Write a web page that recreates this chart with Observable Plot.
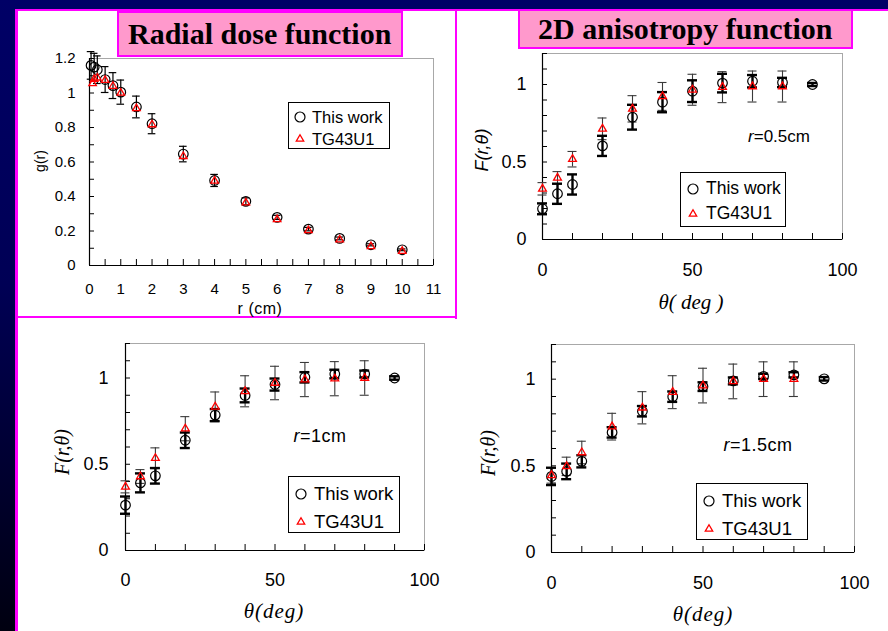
<!DOCTYPE html>
<html><head><meta charset="utf-8">
<script src="https://cdn.jsdelivr.net/npm/d3@7"></script>
<script src="https://cdn.jsdelivr.net/npm/@observablehq/plot@0.6"></script>
<style>
html,body{margin:0;padding:0;}
body{width:888px;height:631px;overflow:hidden;position:relative;background:linear-gradient(to bottom,#000066 0%,#000055 45%,#000010 100%);font-family:"Liberation Sans",Arial,sans-serif;}
#white{position:absolute;left:18px;top:11px;width:870px;height:620px;background:#fff;}
.mag{position:absolute;background:#ff00ff;}
.title{position:absolute;background:#ff99cc;border:2px solid #ff00ff;box-sizing:border-box;font-family:"Liberation Serif","Times New Roman",serif;font-weight:bold;font-size:30px;color:#000;white-space:nowrap;}
.lab{position:absolute;white-space:nowrap;color:#000;}
.legend{position:absolute;border:1px solid #000;background:#fff;box-sizing:border-box;}
.legend svg{position:absolute;left:0;top:0;overflow:visible;}
.legend span{position:absolute;white-space:nowrap;line-height:1;}
svg.plot{position:absolute;}
</style>
</head><body>
<div id="white"></div>
<div class="mag" style="left:15px;top:9px;width:873px;height:2px;"></div>
<div class="mag" style="left:15px;top:9px;width:3px;height:622px;"></div>
<div class="mag" style="left:455px;top:9px;width:2px;height:310px;"></div>
<div class="mag" style="left:15px;top:316px;width:442px;height:2px;"></div>
<script>
// ---------- DATA ----------
// Radial dose function g(r)
const radialThisR   = [0.05, 0.15, 0.25, 0.5, 0.75, 1, 1.5, 2, 3, 4, 5, 6, 7, 8, 9, 10];
const radialThisG   = [1.16, 1.15, 1.135, 1.078, 1.043, 1.005, 0.919, 0.822, 0.646, 0.493, 0.372, 0.279, 0.211, 0.157, 0.12, 0.091];
const radialThisErr = [0.08, 0.08, 0.08, 0.075, 0.075, 0.07, 0.063, 0.058, 0.045, 0.035, 0.02, 0.012, 0.01, 0.008, 0.006, 0.005];
const radialTGR     = [0.1, 0.15, 0.25, 0.5, 0.75, 1, 1.5, 2, 3, 4, 5, 6, 7, 8, 9, 10];
const radialTGG     = [1.055, 1.08, 1.088, 1.074, 1.04, 1.0, 0.91, 0.817, 0.633, 0.49, 0.364, 0.267, 0.203, 0.149, 0.11, 0.083];
const radialXTicks  = [0, 1, 2, 3, 4, 5, 6, 7, 8, 9, 10, 11];
const radialYTicks  = [0, 0.2, 0.4, 0.6, 0.8, 1, 1.2];

// 2D anisotropy function F(r,theta)
const thetaThis = [0, 5, 10, 20, 30, 40, 50, 60, 70, 80, 90];
const thetaTG   = [0, 5, 10, 20, 30, 40, 50, 60, 70, 80];
// r = 0.5 cm
const f05This    = [0.198, 0.295, 0.355, 0.604, 0.789, 0.886, 0.957, 1.009, 1.021, 1.013, 1.0];
const f05ThisErr = [0.035, 0.065, 0.065, 0.065, 0.08, 0.065, 0.07, 0.06, 0.04, 0.03, 0.01];
const f05TG      = [0.327, 0.398, 0.518, 0.714, 0.843, 0.923, 0.966, 0.983, 0.987, 0.987];
const f05TGErr   = [0.04, 0.04, 0.05, 0.07, 0.085, 0.09, 0.1, 0.1, 0.1, 0.1];
// r = 1 cm
const f10This    = [0.263, 0.392, 0.433, 0.639, 0.785, 0.899, 0.962, 1.004, 1.023, 1.023, 1.0];
const f10ThisErr = [0.05, 0.055, 0.045, 0.045, 0.035, 0.04, 0.035, 0.03, 0.025, 0.02, 0.01];
const f10TG      = [0.369, 0.429, 0.535, 0.706, 0.833, 0.923, 0.971, 0.991, 0.996, 1.0];
const f10TGErr   = [0.035, 0.04, 0.06, 0.07, 0.086, 0.09, 0.097, 0.099, 0.099, 0.1];
// r = 1.5 cm
const f15This    = [0.439, 0.468, 0.526, 0.693, 0.815, 0.899, 0.957, 0.99, 1.016, 1.025, 1.002];
const f15ThisErr = [0.05, 0.045, 0.035, 0.03, 0.03, 0.03, 0.025, 0.02, 0.015, 0.015, 0.01];
const f15TG      = [0.445, 0.497, 0.577, 0.726, 0.835, 0.925, 0.963, 0.987, 1.0, 1.0];
const f15TGErr   = [0.045, 0.053, 0.065, 0.077, 0.093, 0.095, 0.1, 0.1, 0.1, 0.1];
const anisoXTicks = [0, 50, 100];
const anisoYTicks = [0, 0.5, 1];

// ---------- HELPERS ----------
const zip = (xs, ys, es) => xs.map((x, i) => ({x, y: ys[i], e: es ? es[i] : 0}));

function errMarks(data, {stroke, strokeWidth, cap}) {
  return [
    Plot.ruleX(data, {x: "x", y1: d => d.y - d.e, y2: d => d.y + d.e, stroke, strokeWidth}),
    Plot.ruleY(data, {y: d => d.y + d.e, x1: "x", x2: "x", insetLeft: -cap, insetRight: -cap, stroke, strokeWidth}),
    Plot.ruleY(data, {y: d => d.y - d.e, x1: "x", x2: "x", insetLeft: -cap, insetRight: -cap, stroke, strokeWidth})
  ];
}

function panel(o) {
  const ML = 70, MT = 12, MR = 14, MB = 50;
  const fw = o.frame[2] - o.frame[0], fh = o.frame[3] - o.frame[1];
  const svg = Plot.plot({
    width: fw + ML + MR, height: fh + MT + MB,
    marginLeft: ML, marginTop: MT, marginRight: MR, marginBottom: MB,
    x: {domain: o.xDomain},
    y: {domain: o.yDomain},
    style: {background: "transparent", fontFamily: "'Liberation Sans', Arial, sans-serif", fontSize: o.fontSize + "px", color: "#000", overflow: "visible"},
    marks: [
      Plot.frame({stroke: "#a8a8a8"}),
      Plot.tickX(o.xMinor, {x: d => d, insetTop: fh - 6, stroke: "#000"}),
      Plot.tickY(o.yMinor, {y: d => d, insetRight: fw - 5, stroke: "#000"}),
      Plot.ruleX([o.xDomain[0]], {stroke: "#000", strokeWidth: 1.2}),
      Plot.ruleY([o.yDomain[0]], {stroke: "#000", strokeWidth: 1.2}),
      Plot.axisX({ticks: o.xTicks, tickSize: 0, tickPadding: o.xPad, label: null, tickFormat: d => String(d), fill: "#000"}),
      Plot.axisY({ticks: o.yTicks, tickSize: 0, tickPadding: o.yPad, label: null, tickFormat: d => String(d), fill: "#000"}),
      ...o.marks
    ]
  });
  svg.classList.add("plot");
  svg.style.left = (o.frame[0] - ML) + "px";
  svg.style.top = (o.frame[1] - MT) + "px";
  document.body.appendChild(svg);
}

function anisoMarks(thisVals, thisErr, tgVals, tgErr) {
  const dThis = zip(thetaThis, thisVals, thisErr);
  const dTG = zip(thetaTG, tgVals, tgErr);
  return [
    ...errMarks(dTG, {stroke: "#3a3a3a", strokeWidth: 1.1, cap: 4.5}),
    ...errMarks(dThis, {stroke: "#000", strokeWidth: 2.4, cap: 5}),
    Plot.dot(dThis, {x: "x", y: "y", r: 4.8, stroke: "#000", strokeWidth: 1.2, fill: "none"}),
    Plot.dot(dTG, {x: "x", y: "y", r: 2.9, symbol: "triangle", stroke: "#ff0000", strokeWidth: 1.3, fill: "none"})
  ];
}

// ---------- PANELS ----------
const rThis = zip(radialThisR, radialThisG, radialThisErr);
const rTG = zip(radialTGR, radialTGG);
panel({
  frame: [89, 58, 433, 265], xDomain: [0, 11], yDomain: [0, 1.2],
  xTicks: radialXTicks, yTicks: radialYTicks,
  xMinor: d3.range(0, 11.001, 0.5), yMinor: d3.range(0, 1.2001, 0.1),
  xPad: 18, yPad: 14, fontSize: 15,
  marks: [
    ...errMarks(rThis, {stroke: "#000", strokeWidth: 1.2, cap: 3.8}),
    Plot.dot(rThis, {x: "x", y: "y", r: 4.8, stroke: "#000", strokeWidth: 1.2, fill: "none"}),
    Plot.dot(rTG, {x: "x", y: "y", r: 2.8, symbol: "triangle", stroke: "#ff0000", strokeWidth: 1.3, fill: "none"})
  ]
});
const anisoCommon = {xDomain: [0, 100], yDomain: [0, 1.2], xTicks: anisoXTicks, yTicks: anisoYTicks,
  xMinor: d3.range(0, 100.001, 10), yMinor: d3.range(0, 1.2001, 0.1), fontSize: 18};
panel({...anisoCommon, frame: [542, 53, 842, 239], xPad: 24, yPad: 16, marks: anisoMarks(f05This, f05ThisErr, f05TG, f05TGErr)});
panel({...anisoCommon, frame: [125, 343, 424, 550], xPad: 23, yPad: 17, marks: anisoMarks(f10This, f10ThisErr, f10TG, f10TGErr)});
panel({...anisoCommon, frame: [551, 344, 854, 552], xPad: 24, yPad: 16, marks: anisoMarks(f15This, f15ThisErr, f15TG, f15TGErr)});

// ---------- TEXT / LEGENDS ----------
function label(html, cx, cy, css, rotate) {
  const d = document.createElement("div");
  d.className = "lab";
  d.innerHTML = html;
  d.style.cssText += css;
  d.style.left = cx + "px"; d.style.top = cy + "px";
  d.style.transform = "translate(-50%,-50%)" + (rotate ? " rotate(-90deg)" : "");
  document.body.appendChild(d);
}
label("g(r)", 40, 161, "font-size:14px;", true);
label("r (cm)", 260, 309, "font-size:16px;letter-spacing:0.5px;");
label("F(r,θ)", 482, 150, "font-size:18px;font-style:italic;", true);
label("θ( deg )", 691, 302, "font-family:'Liberation Serif',serif;font-style:italic;font-size:21px;");
label("F(r,θ)", 62, 452, "font-family:'Liberation Serif',serif;font-size:20px;font-style:italic;", true);
label("θ(deg)", 274, 611, "font-family:'Liberation Serif',serif;font-style:italic;font-size:21px;letter-spacing:1px;");
label("F(r,θ)", 488, 453, "font-family:'Liberation Serif',serif;font-size:20px;font-style:italic;", true);
label("θ(deg)", 703, 614, "font-family:'Liberation Serif',serif;font-style:italic;font-size:21px;letter-spacing:1px;");
label("<i>r</i>=0.5cm", 779, 137, "font-size:17px;");
label("<i>r</i>=1cm", 320, 436, "font-size:18px;letter-spacing:0.5px;");
label("<i>r</i>=1.5cm", 758, 445, "font-size:18px;letter-spacing:0.5px;");

function legend(l, t, w, h, fs, y1, y2, mx, tx) {
  const d = document.createElement("div");
  d.className = "legend";
  d.style.left = l + "px"; d.style.top = t + "px"; d.style.width = w + "px"; d.style.height = h + "px";
  const s = d3.create("svg").attr("width", w).attr("height", h);
  s.append("circle").attr("cx", mx).attr("cy", y1).attr("r", 5).attr("fill", "none").attr("stroke", "#000").attr("stroke-width", 1.2);
  s.append("path").attr("transform", `translate(${mx},${y2})`).attr("d", d3.symbol(d3.symbolTriangle, 24)()).attr("fill", "none").attr("stroke", "#ff0000").attr("stroke-width", 1.3);
  d.appendChild(s.node());
  [["This work", y1], ["TG43U1", y2]].forEach(([txt, y]) => {
    const sp = document.createElement("span");
    sp.textContent = txt;
    sp.style.left = tx + "px"; sp.style.top = (y - fs * 0.5) + "px"; sp.style.fontSize = fs + "px";
    d.appendChild(sp);
  });
  document.body.appendChild(d);
}
legend(288, 102, 102, 47, 16.5, 14, 36, 11, 23);
legend(680, 172, 106, 55, 17.5, 16, 41, 12, 25);
legend(288, 476, 112, 57, 18.5, 17, 45, 12, 25);
legend(696, 483, 112, 57, 18.5, 17, 45, 12, 25);

// Titles (on top)
function title(txt, l, t, w, h, pad) {
  const d = document.createElement("div");
  d.className = "title";
  d.textContent = txt;
  d.style.left = l + "px"; d.style.top = t + "px"; d.style.width = w + "px"; d.style.height = h + "px";
  d.style.paddingLeft = pad + "px"; d.style.lineHeight = (h - 4) + "px";
  document.body.appendChild(d);
}
title("Radial dose function", 117, 11, 286, 46, 9);
title("2D anisotropy function", 518, 9, 335, 40, 18);
</script>
</body></html>
